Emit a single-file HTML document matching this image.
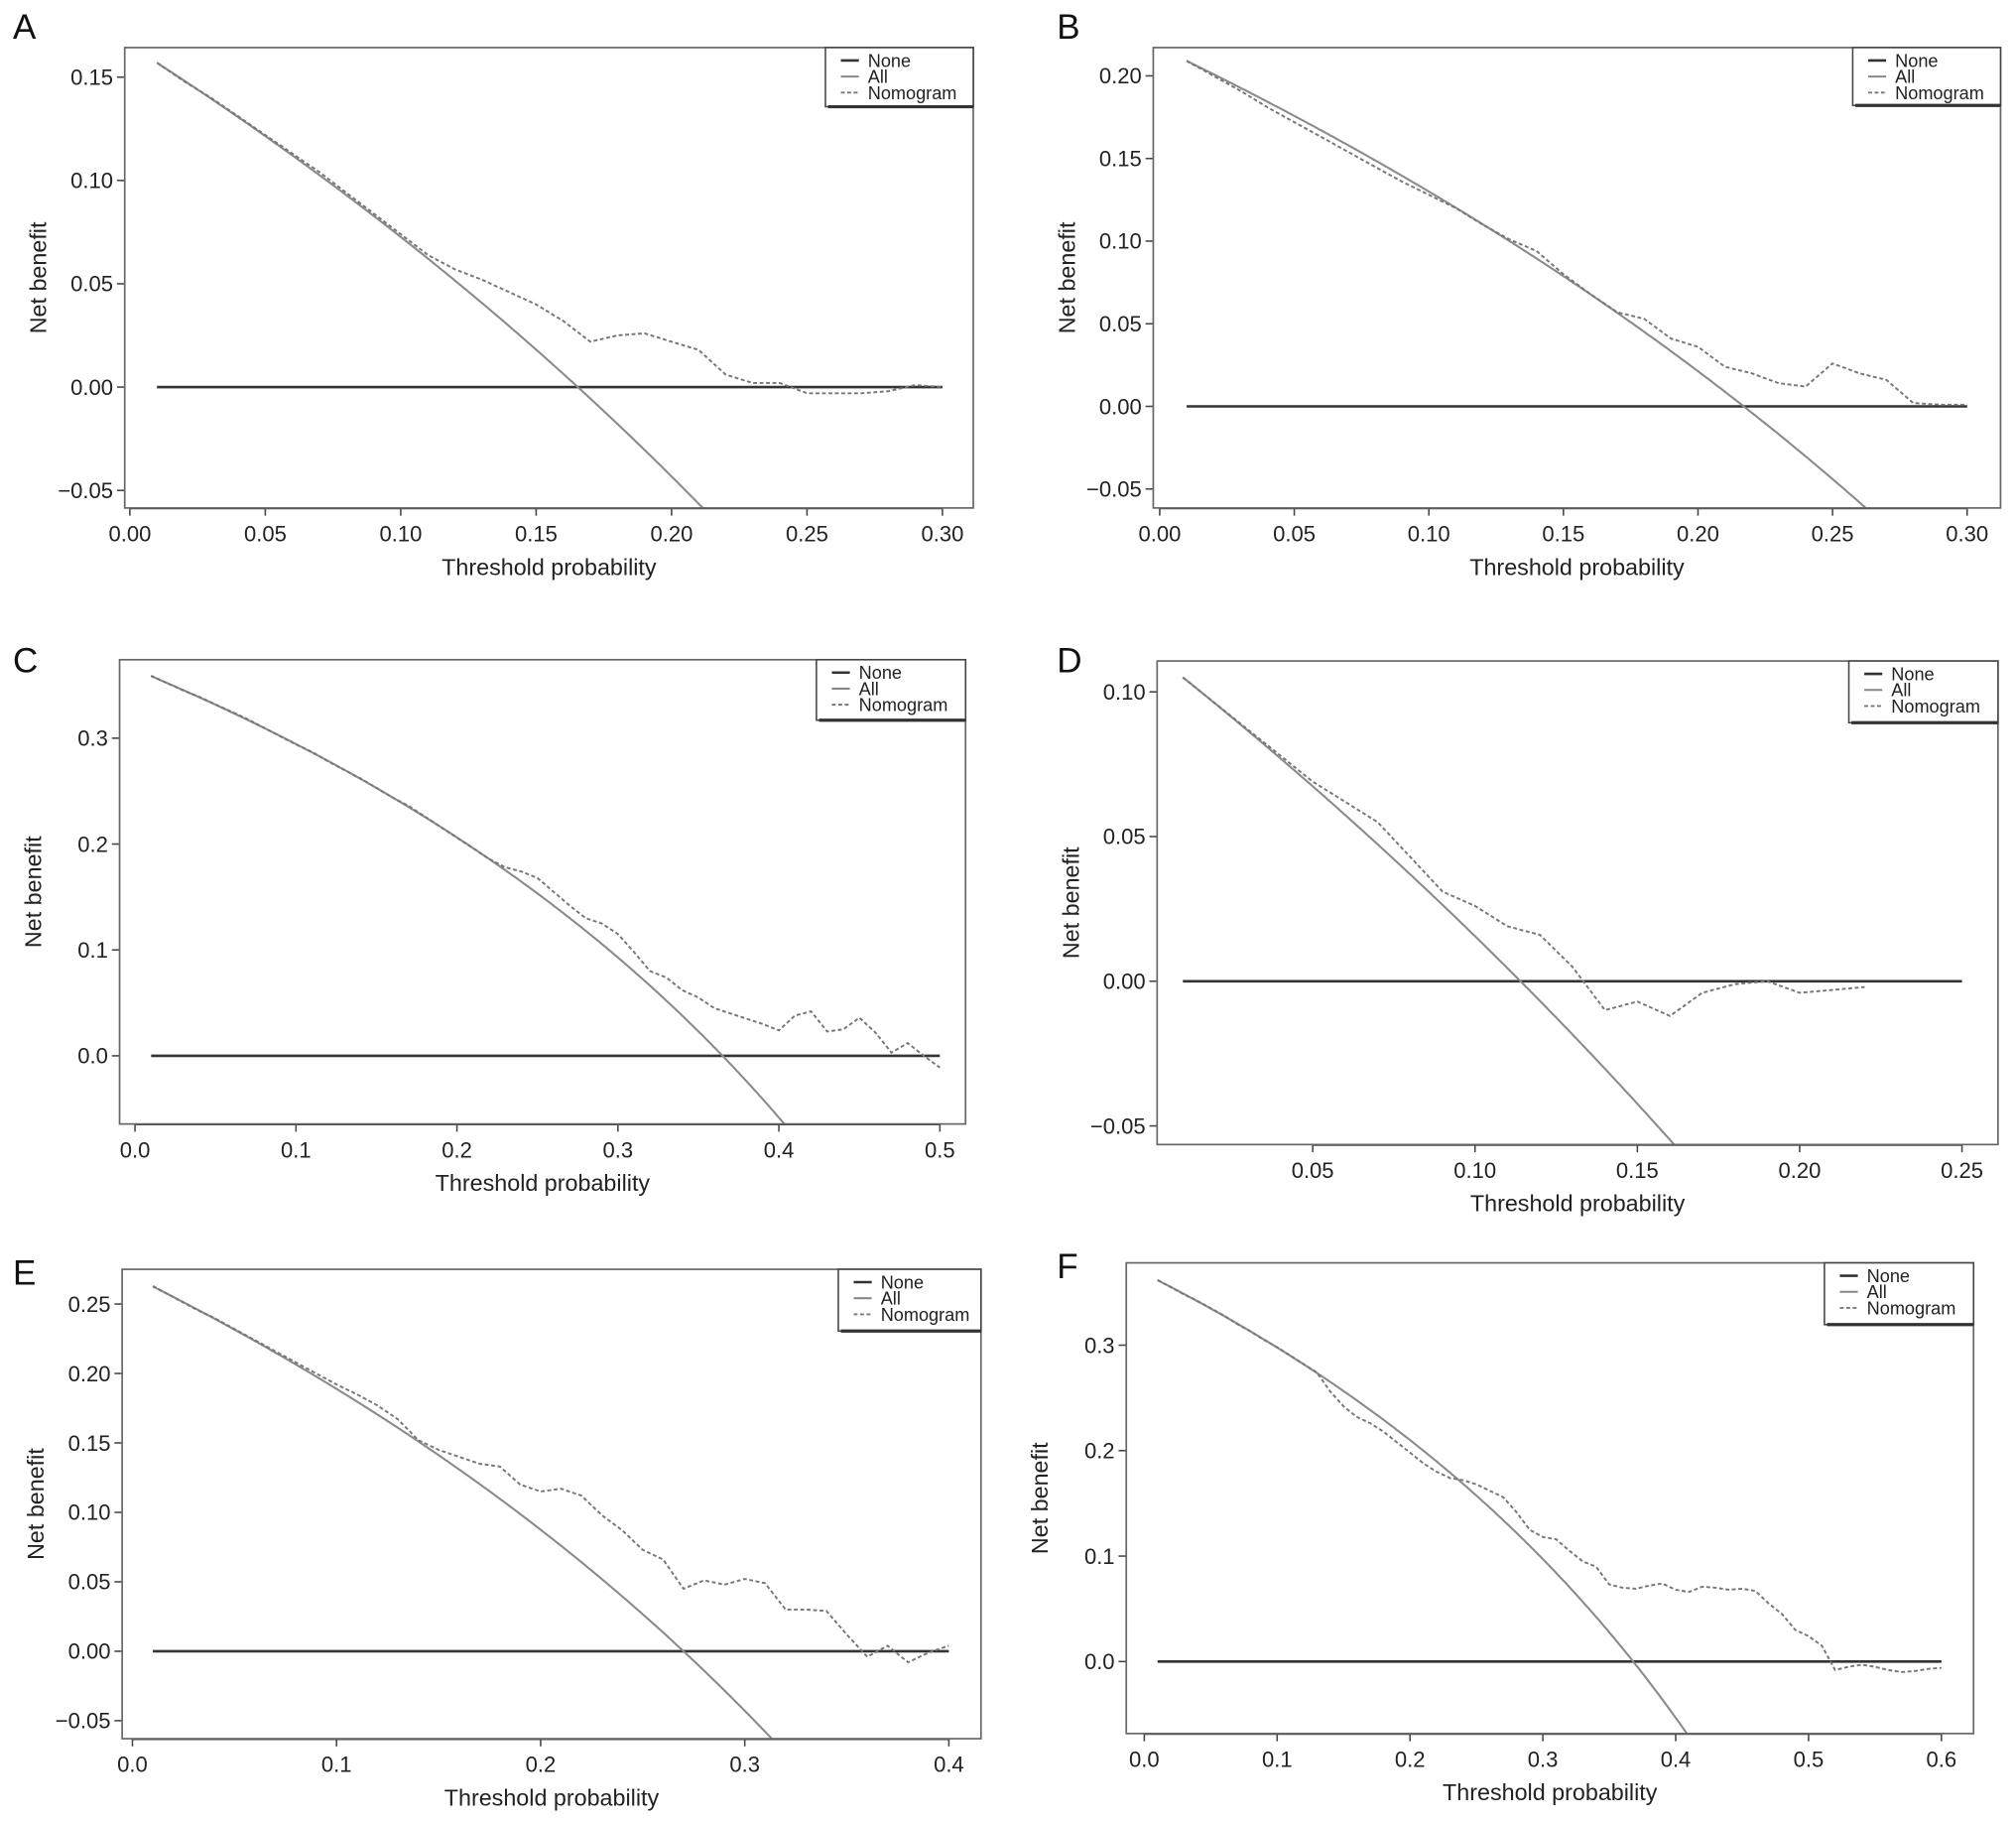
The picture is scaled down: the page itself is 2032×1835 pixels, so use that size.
<!DOCTYPE html>
<html><head><meta charset="utf-8">
<style>
html,body{margin:0;padding:0;background:#fff;overflow:hidden;width:2032px;height:1835px;}
svg{display:block;font-family:"Liberation Sans",Arial,sans-serif;}
</style></head>
<body>
<svg id="fig" width="2032" height="1835" viewBox="0 0 1568 1416" xmlns="http://www.w3.org/2000/svg"></svg>
<script>
// ---- data ----
const thrA = [0.01,0.02,0.03,0.04,0.05,0.06,0.07,0.08,0.09,0.10,0.11,0.12,0.13,0.14,0.15,0.16,0.17,0.18,0.19,0.20,0.21,0.22,0.23,0.24,0.25,0.26,0.27,0.28,0.29,0.30];
const nomoA = [0.157,0.148,0.140,0.131,0.122,0.113,0.104,0.094,0.084,0.074,0.064,0.057,0.052,0.046,0.040,0.032,0.022,0.025,0.026,0.022,0.018,0.006,0.002,0.002,-0.003,-0.003,-0.003,-0.002,0.001,0.000];
const prevA = 0.1654;
const thrB = thrA;
const nomoB = [0.209,0.200,0.191,0.181,0.172,0.163,0.154,0.145,0.136,0.128,0.120,0.110,0.101,0.094,0.080,0.068,0.057,0.053,0.041,0.036,0.024,0.020,0.014,0.012,0.026,0.020,0.016,0.002,0.001,0.001];
const prevB = 0.217;
const thrC = [0.01,0.02,0.03,0.04,0.05,0.06,0.07,0.08,0.09,0.10,0.11,0.12,0.13,0.14,0.15,0.16,0.17,0.18,0.19,0.20,0.21,0.22,0.23,0.24,0.25,0.26,0.27,0.28,0.29,0.30,0.31,0.32,0.33,0.34,0.35,0.36,0.37,0.38,0.39,0.40,0.41,0.42,0.43,0.44,0.45,0.46,0.47,0.48,0.49,0.50];
const nomoC = [0.359,0.352,0.345,0.339,0.332,0.325,0.318,0.310,0.302,0.294,0.287,0.278,0.270,0.262,0.253,0.244,0.236,0.226,0.216,0.206,0.196,0.186,0.178,0.174,0.168,0.155,0.142,0.130,0.125,0.115,0.098,0.080,0.074,0.062,0.055,0.045,0.040,0.035,0.030,0.024,0.038,0.042,0.023,0.025,0.036,0.022,0.003,0.012,0.000,-0.011];
const prevC = 0.365;
const thrD = [0.01,0.02,0.03,0.04,0.05,0.06,0.07,0.08,0.09,0.10,0.11,0.12,0.13,0.14,0.15,0.16,0.17,0.18,0.19,0.20,0.21,0.22];
const nomoD = [0.105,0.096,0.087,0.078,0.069,0.062,0.055,0.043,0.031,0.026,0.019,0.016,0.005,-0.010,-0.007,-0.012,-0.004,-0.001,0.000,-0.004,-0.003,-0.002];
const prevD = 0.114;
const thrE = thrC.slice(0,40);
const nomoE = [0.263,0.255,0.247,0.240,0.232,0.224,0.216,0.208,0.200,0.192,0.185,0.177,0.167,0.152,0.145,0.140,0.135,0.133,0.120,0.115,0.117,0.112,0.098,0.087,0.073,0.066,0.045,0.051,0.048,0.052,0.049,0.030,0.030,0.029,0.012,-0.004,0.004,-0.008,-0.001,0.004];
const prevE = 0.27;
const thrF = thrC.concat([0.51,0.52,0.53,0.54,0.55,0.56,0.57,0.58,0.59,0.60]);
const nomoF = [0.362,0.355,0.348,0.342,0.335,0.328,0.320,0.313,0.305,0.298,0.290,0.282,0.274,0.256,0.242,0.232,0.226,0.218,0.208,0.198,0.188,0.180,0.174,0.172,0.168,0.162,0.156,0.142,0.125,0.118,0.116,0.105,0.095,0.090,0.073,0.070,0.069,0.072,0.074,0.068,0.066,0.071,0.070,0.068,0.069,0.067,0.055,0.045,0.030,0.024,0.015,-0.008,-0.005,-0.003,-0.005,-0.008,-0.010,-0.009,-0.007,-0.006];
const prevF = 0.368;
const xTicksAB = ["0.00","0.05","0.10","0.15","0.20","0.25","0.30"];
const xTicksC = ["0.0","0.1","0.2","0.3","0.4","0.5"];
const xTicksD = ["0.05","0.10","0.15","0.20","0.25"];
const xTicksE = ["0.0","0.1","0.2","0.3","0.4"];
const xTicksF = ["0.0","0.1","0.2","0.3","0.4","0.5","0.6"];
const yTicksA = ["-0.05","0.00","0.05","0.10","0.15"];
const yTicksB = ["-0.05","0.00","0.05","0.10","0.15","0.20"];
const yTicksC = ["0.0","0.1","0.2","0.3"];
const yTicksD = ["-0.05","0.00","0.05","0.10"];
const yTicksE = ["-0.05","0.00","0.05","0.10","0.15","0.20","0.25"];
const yTicksF = ["0.0","0.1","0.2","0.3"];
const noneEnd = [0.30,0.30,0.50,0.25,0.40,0.60];

// ---- layout (pixel positions, not data) ----
const panels = [
 {id:"a",L:"A",lx:10,ly:30,box:[97,37,757,395],xa:[0,101,0.30,733],ya:[0.15,60,0,301],leg:[642,37,757,83],thr:thrA,nomo:nomoA,prev:prevA,xt:xTicksAB,yt:yTicksA,ne:noneEnd[0]},
 {id:"b",L:"B",lx:822,ly:30,box:[897,37,1556,395],xa:[0,902,0.30,1530],ya:[0.20,59,0,316],leg:[1441,37,1556,82],thr:thrB,nomo:nomoB,prev:prevB,xt:xTicksAB,yt:yTicksB,ne:noneEnd[1]},
 {id:"c",L:"C",lx:10,ly:523,box:[93,513,751,874],xa:[0,105,0.5,731],ya:[0.3,574,0,821],leg:[635,513,751,560],thr:thrC,nomo:nomoC,prev:prevC,xt:xTicksC,yt:yTicksC,ne:noneEnd[2]},
 {id:"d",L:"D",lx:822,ly:523,box:[900,514,1554,890],xa:[0.05,1021,0.25,1526],ya:[0.10,538,0,763],leg:[1438,514,1554,562],thr:thrD,nomo:nomoD,prev:prevD,xt:xTicksD,yt:yTicksD,ne:noneEnd[3]},
 {id:"e",L:"E",lx:10,ly:999,box:[95,987,763,1352],xa:[0,103,0.4,738],ya:[0.25,1014,0,1284],leg:[652,987,763,1035],thr:thrE,nomo:nomoE,prev:prevE,xt:xTicksE,yt:yTicksE,ne:noneEnd[4]},
 {id:"f",L:"F",lx:822,ly:994,box:[876,982,1535,1348],xa:[0,890,0.6,1510],ya:[0.3,1046,0,1292],leg:[1419,982,1535,1030],thr:thrF,nomo:nomoF,prev:prevF,xt:xTicksF,yt:yTicksF,ne:noneEnd[5]}
];
const NS="http://www.w3.org/2000/svg";
const svg=document.getElementById('fig');
function mk(tag,attrs,parent,text){const e=document.createElementNS(NS,tag);for(const k in attrs)e.setAttribute(k,attrs[k]);if(text!==undefined)e.textContent=text;parent.appendChild(e);return e;}
panels.forEach(p=>{
  const g=mk('g',{},svg);
  
  
  const X=v=>p.xa[1]+(v-p.xa[0])*(p.xa[3]-p.xa[1])/(p.xa[2]-p.xa[0]);
  const Y=v=>p.ya[3]+(v-p.ya[2])*(p.ya[1]-p.ya[3])/(p.ya[0]-p.ya[2]);
  const [x0,y0,x1,y1]=p.box;
  const lab=mk('text',{x:p.lx,y:p.ly,'font-size':27,fill:'#111'},g,p.L);
  
  
  mk('defs',{},g).innerHTML='<clipPath id="clip'+p.id+'"><rect x="'+x0+'" y="'+y0+'" width="'+(x1-x0)+'" height="'+(y1-y0)+'"/></clipPath>';
  const xg=mk('g',{},g);
  
  
  p.xt.forEach(t=>{const x=X(parseFloat(t));
    mk('line',{x1:x,x2:x,y1:y1,y2:y1+6,stroke:'#444','stroke-width':1.2},xg);
    const tx=mk('text',{x:x,y:y1+26,'font-size':17,'text-anchor':'middle',fill:'#222'},xg,t);
    
    });
  mk('line',{x1:X(parseFloat(p.xt[0])),x2:X(parseFloat(p.xt[p.xt.length-1])),y1:y1+0.5,y2:y1+0.5,stroke:'#444','stroke-width':1.2},xg);
  const yg=mk('g',{},g);
  
  
  p.yt.forEach(t=>{const y=Y(parseFloat(t));
    mk('line',{x1:x0-6,x2:x0,y1:y,y2:y,stroke:'#444','stroke-width':1.2},yg);
    const ty=mk('text',{x:x0-9,y:y+6,'font-size':17,'text-anchor':'end',fill:'#222'},yg,t.replace('-','\u2212'));
    
    });
  const xt=mk('text',{x:(x0+x1)/2,y:y1+52,'font-size':18,'text-anchor':'middle',fill:'#222'},g,'Threshold probability');
  
  
  const yc=(y0+y1)/2, yx=x0-61;
  const yt=mk('text',{x:yx,y:yc,'font-size':18,'text-anchor':'middle',fill:'#222',transform:'rotate(-90 '+yx+' '+yc+')'},g,'Net benefit');
  
  
  const sg=mk('g',{'clip-path':'url(#clip'+p.id+')'},g);
  const none=mk('line',{x1:X(p.thr[0]),x2:X(p.ne),y1:Y(0),y2:Y(0),stroke:'#333','stroke-width':2},sg);
  
  
  let allPts=[];
  for(let i=0;i<=400;i++){const t=0.01+i*(p.ne-0.01)/400;const v=p.prev-(1-p.prev)*t/(1-t);allPts.push(X(t).toFixed(1)+','+Y(v).toFixed(1));}
  const all=mk('polyline',{points:allPts.join(' '),fill:'none',stroke:'#8a8a8a','stroke-width':1.6},sg);
  
  
  const nm=mk('polyline',{points:p.thr.map((t,i)=>X(t).toFixed(1)+','+Y(p.nomo[i]).toFixed(1)).join(' '),fill:'none',stroke:'#777','stroke-width':1.5,'stroke-dasharray':'3,2'},sg);
  
  
  const bx=mk('rect',{x:x0,y:y0,width:x1-x0,height:y1-y0,fill:'none',stroke:'#666','stroke-width':1.3},g);
  
  
  const [lx0,ly0,lx1,ly1]=p.leg;
  const lg=mk('g',{},g);
  
  
  mk('rect',{x:lx0,y:ly0,width:lx1-lx0,height:ly1-ly0,fill:'#fff',stroke:'#444','stroke-width':1.2},lg);
  mk('line',{x1:lx0+2,x2:lx1,y1:ly1,y2:ly1,stroke:'#333','stroke-width':2.5},lg);
  const items=[["None",'#333',2,null],["All",'#888',1.6,null],["Nomogram",'#777',1.5,'3,2']];
  items.forEach((it,k)=>{const yy=ly0+10+k*12.5;
    const a={x1:lx0+12,x2:lx0+26,y1:yy,y2:yy,stroke:it[1],'stroke-width':it[2]};if(it[3])a['stroke-dasharray']=it[3];
    mk('line',a,lg);
    const tt=mk('text',{x:lx0+33,y:yy+5,'font-size':14,fill:'#222'},lg,it[0]);
    
    });
});
</script>
</body></html>
